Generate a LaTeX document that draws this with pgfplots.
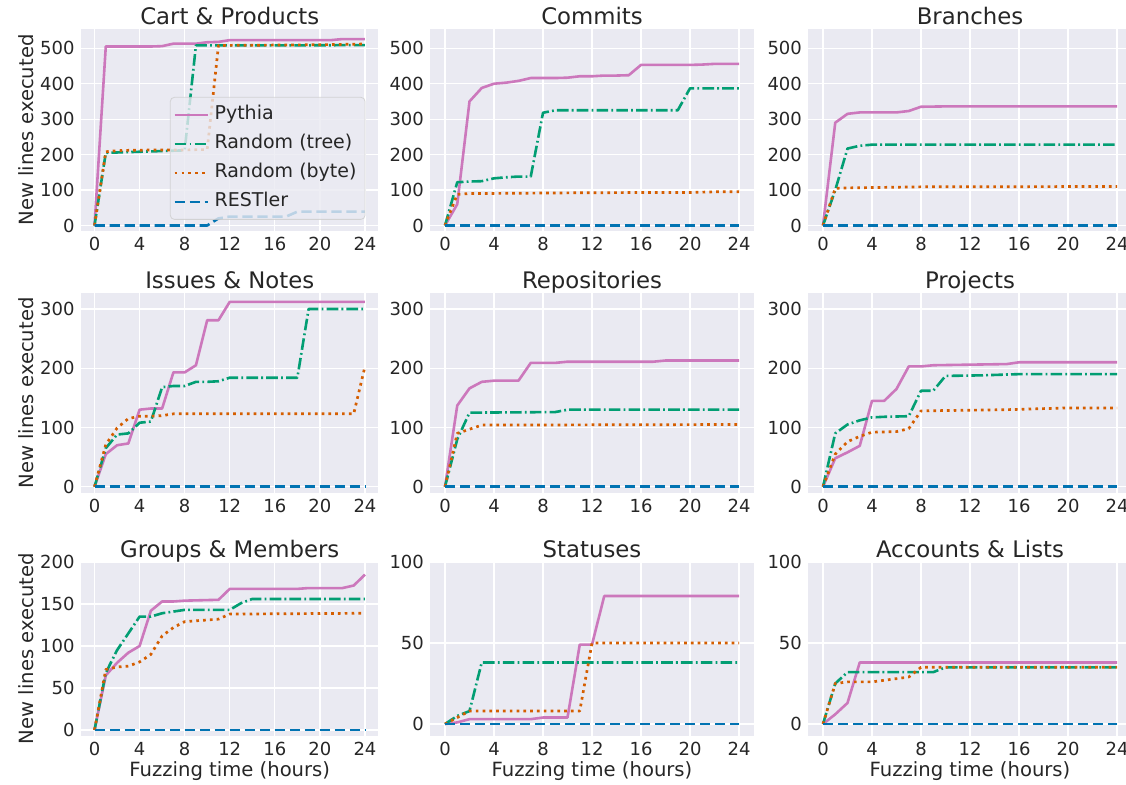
\documentclass[border=0pt]{standalone}
\usepackage{pgfplots}
\pgfplotsset{compat=1.18}
\usepackage{fontspec}
\setmainfont{DejaVu Sans}
\definecolor{bgc}{HTML}{EAEAF2}
\definecolor{txt}{HTML}{262626}
\definecolor{cpy}{HTML}{CC78BC}
\definecolor{ctr}{HTML}{029E73}
\definecolor{cby}{HTML}{D55E00}
\definecolor{cre}{HTML}{0173B2}
\definecolor{legc}{HTML}{CCCCCC}
\tikzset{
 pyth/.style={draw=cpy, solid, line width=1.3pt, line join=round},
 tree/.style={draw=ctr, line width=1.3pt, line join=round, dash pattern=on 5.8pt off 1.6pt on 0.9pt off 1.6pt},
 byte/.style={draw=cby, line width=1.35pt, line join=round, dash pattern=on 1.35pt off 2.05pt},
 rest/.style={draw=cre, line width=1.3pt, line join=round, dash pattern=on 5.2pt off 2.3pt},
}
\pgfplotsset{
  every axis title/.style={at={(axis description cs:0.5,1)}, anchor=base, yshift=2.3pt, inner sep=0pt, font=\fontsize{11.4}{13}\selectfont, text=txt},
  every axis x label/.style={at={(axis description cs:0.5,0)}, anchor=base, yshift=-20.5pt, inner sep=0pt, font=\fontsize{9.8}{11}\selectfont, text=txt},
  every axis y label/.style={at={(axis description cs:-0.1593,0.5)}, rotate=90, anchor=base, inner sep=0pt, font=\fontsize{9.8}{11}\selectfont, text=txt},
  panel/.style={
    scale only axis, anchor=south west,
    xmin=-1.2, xmax=25.2, xtick={0,4,...,24},
    axis background/.style={fill=bgc},
    axis line style={draw=none},
    major tick length=0pt,
    grid=major, major grid style={draw=white, line width=0.65pt},
    tick label style={font=\fontsize{9}{10}\selectfont, text=txt, inner sep=0pt},
    xticklabel style={yshift=-2.9pt},
    yticklabel style={xshift=-3pt},
    /pgf/number format/assume math mode=true,
    scaled y ticks=false,
  },
}
\begin{document}
\begin{tikzpicture}
\useasboundingbox (0,0) rectangle (563pt,392.5pt);
% ---------- Row 1 ----------
\begin{axis}[panel, at={(40.5pt,277.15pt)}, width=148.75pt, height=100.7pt,
  ymin=-14.7, ymax=553.6, ytick={0,100,...,500},
  title={Cart \& Products}, ylabel={New lines executed},
  legend cell align=left,
  legend image code/.code={\draw[#1, draw opacity=1] (0pt,0pt) -- (16.5pt,0pt);},
  legend style={at={(axis description cs:0.299,0.664)}, anchor=north west,
    fill=bgc, fill opacity=0.8, draw=legc, draw opacity=0.8, text opacity=1,
    rounded corners=2pt, inner sep=1.5pt, font=\fontsize{9.5}{11}\selectfont, text=txt,
    row sep=0pt, nodes={inner sep=2.75pt, text height=7pt, text depth=2pt}}]
\addplot[pyth] coordinates {(0,0)(1,505)(2,505)(3,505)(4,505)(5,505)(6,506)(7,513)(8,513)(9,513)(10,517)(11,518)(12,523)(21,523)(22,526)(24,526)};
\addlegendentry{Pythia}
\addplot[tree] coordinates {(0,0)(1,205)(2,206)(3,207)(4,208)(5,209)(6,210)(7,211)(8,212)(9,508)(16,508)(24,509)};
\addlegendentry{Random (tree)}
\addplot[byte] coordinates {(0,0)(1,208)(2,211)(3,212)(4,212)(5,213)(8,213)(9,214)(10,214)(11,508)(16,509)(20,510)(24,512)};
\addlegendentry{Random (byte)}
\addplot[rest] coordinates {(0,0)(10,0)(11,20)(12,25)(17,25)(18,39)(24,39)};
\addlegendentry{RESTler}
\end{axis}
\begin{axis}[panel, at={(215.15pt,277.15pt)}, width=161.7pt, height=100.7pt,
  ymin=-14.7, ymax=553.6, ytick={0,100,...,500}, title={Commits}]
\addplot[pyth] coordinates {(0,0)(1,60)(2,350)(3,388)(4,400)(5,403)(6,408)(7,416)(8,416)(9,416)(10,417)(11,421)(12,421)(13,423)(14,423)(15,424)(16,453)(20,453)(21,454)(22,456)(24,456)};
\addplot[tree] coordinates {(0,0)(1,122)(2,124)(3,125)(4,133)(5,136)(6,138)(7,138)(8,318)(9,325)(19,325)(20,387)(24,387)};
\addplot[byte] coordinates {(0,0)(1,88)(2,90)(6,91)(10,92)(16,93)(20,93)(22,95)(24,95)};
\addplot[rest] coordinates {(0,0)(24,0)};
\end{axis}
\begin{axis}[panel, at={(404.15pt,277.15pt)}, width=161.7pt, height=100.7pt,
  ymin=-14.7, ymax=553.6, ytick={0,100,...,500}, title={Branches}]
\addplot[pyth] coordinates {(0,0)(1,290)(2,315)(3,319)(6,319)(7,323)(8,335)(10,336)(24,336)};
\addplot[tree] coordinates {(0,0)(1,100)(2,217)(3,225)(4,228)(24,228)};
\addplot[byte] coordinates {(0,0)(1,105)(2,106)(8,109)(24,110)};
\addplot[rest] coordinates {(0,0)(24,0)};
\end{axis}
% ---------- Row 2 ----------
\begin{axis}[panel, at={(40.5pt,145.85pt)}, width=148.75pt, height=100.3pt,
  ymin=-11.1, ymax=327.5, ytick={0,100,200,300},
  title={Issues \& Notes}, ylabel={New lines executed}]
\addplot[pyth] coordinates {(0,0)(1,55)(2,70)(3,73)(4,130)(5,132)(6,132)(7,193)(8,193)(9,205)(10,281)(11,281)(12,312)(24,312)};
\addplot[tree] coordinates {(0,0)(1,65)(2,88)(3,90)(4,108)(5,110)(6,168)(7,170)(8,170)(9,177)(10,177)(11,178)(12,184)(18,184)(19,300)(24,300)};
\addplot[byte] coordinates {(0,0)(1,71)(2,99)(3,115)(4,119)(5,119)(6,120)(7,123)(23,123)(24,203)};
\addplot[rest] coordinates {(0,0)(24,0)};
\end{axis}
\begin{axis}[panel, at={(215.15pt,145.85pt)}, width=161.7pt, height=100.3pt,
  ymin=-11.1, ymax=327.5, ytick={0,100,200,300}, title={Repositories}]
\addplot[pyth] coordinates {(0,0)(1,137)(2,166)(3,177)(4,179)(6,179)(7,209)(9,209)(10,211)(17,211)(18,213)(24,213)};
\addplot[tree] coordinates {(0,0)(1,80)(2,125)(9,126)(10,130)(24,130)};
\addplot[byte] coordinates {(0,0)(1,90)(2,97)(3,104)(24,105)};
\addplot[rest] coordinates {(0,0)(24,0)};
\end{axis}
\begin{axis}[panel, at={(404.15pt,145.85pt)}, width=161.7pt, height=100.3pt,
  ymin=-11.1, ymax=327.5, ytick={0,100,200,300}, title={Projects}]
\addplot[pyth] coordinates {(0,0)(1,48)(2,58)(3,69)(4,145)(5,145)(6,165)(7,203)(8,203)(9,205)(15,207)(16,210)(24,210)};
\addplot[tree] coordinates {(0,0)(1,90)(2,105)(3,112)(4,117)(5,118)(7,119)(8,162)(9,162)(10,187)(13,188)(16,190)(24,190)};
\addplot[byte] coordinates {(0,0)(1,55)(2,76)(3,85)(4,92)(6,93)(7,98)(8,128)(15,130)(20,133)(24,133)};
\addplot[rest] coordinates {(0,0)(24,0)};
\end{axis}
% ---------- Row 3 ----------
\begin{axis}[panel, at={(40.5pt,24.65pt)}, width=148.75pt, height=87pt,
  ymin=-6.8, ymax=200.4, ytick={0,50,...,200},
  title={Groups \& Members}, ylabel={New lines executed}, xlabel={Fuzzing time (hours)}]
\addplot[pyth] coordinates {(0,0)(1,65)(2,80)(3,92)(4,100)(5,142)(6,153)(7,153)(8,154)(11,155)(12,168)(18,168)(19,169)(22,169)(23,172)(24,185)};
\addplot[tree] coordinates {(0,0)(1,68)(2,95)(3,115)(4,135)(5,135)(6,139)(7,141)(8,143)(12,143)(13,151)(14,156)(24,156)};
\addplot[byte] coordinates {(0,0)(1,72)(2,75)(3,76)(4,81)(5,90)(6,112)(7,122)(8,129)(9,130)(11,132)(12,138)(24,139)};
\addplot[rest] coordinates {(0,0)(24,0)};
\end{axis}
\begin{axis}[panel, at={(215.15pt,24.65pt)}, width=161.7pt, height=87pt,
  ymin=-7.2, ymax=100.2, ytick={0,50,100},
  title={Statuses}, xlabel={Fuzzing time (hours)}]
\addplot[pyth] coordinates {(0,0)(1,1)(2,3)(7,3)(8,4)(10,4)(11,49)(12,49)(13,79)(24,79)};
\addplot[tree] coordinates {(0,0)(1,5)(2,8)(3,38)(24,38)};
\addplot[byte] coordinates {(0,0)(1,4)(2,8)(11,8)(12,50)(24,50)};
\addplot[rest] coordinates {(0,0)(24,0)};
\end{axis}
\begin{axis}[panel, at={(404.15pt,24.65pt)}, width=161.7pt, height=87pt,
  ymin=-7.2, ymax=100.2, ytick={0,50,100},
  title={Accounts \& Lists}, xlabel={Fuzzing time (hours)}]
\addplot[pyth] coordinates {(0,0)(1,6)(2,13)(3,38)(24,38)};
\addplot[tree] coordinates {(0,0)(1,25)(2,32)(9,32)(10,35)(24,35)};
\addplot[byte] coordinates {(0,0)(1,25)(2,26)(4,26)(5,27)(6,28)(7,29)(8,35)(24,35)};
\addplot[rest] coordinates {(0,0)(24,0)};
\end{axis}
\end{tikzpicture}
\end{document}
